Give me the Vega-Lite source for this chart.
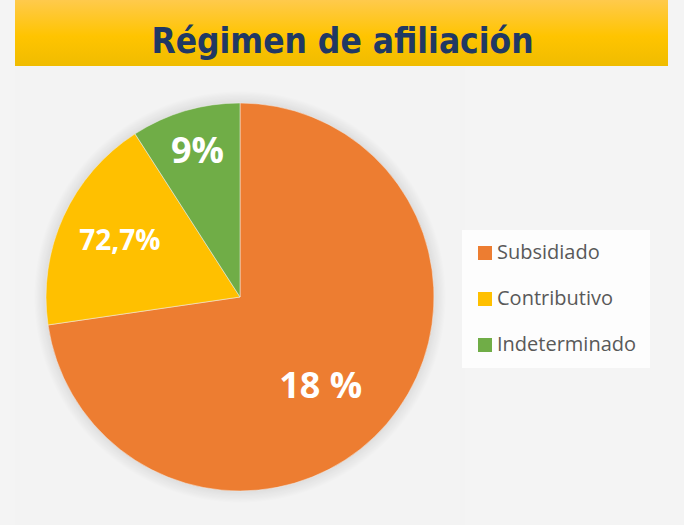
{
  "$schema": "https://vega.github.io/schema/vega-lite/v6.json",
  "background": "#f4f4f4",
  "padding": {"left": 15, "top": 0, "right": 16, "bottom": 0},
  "spacing": 1,
  "config": {"view": {"stroke": null}},
  "vconcat": [
    {
      "width": 653,
      "height": 66,
      "data": {"values": [{"titulo": "Régimen de afiliación"}]},
      "layer": [
        {
          "mark": {
            "type": "rect",
            "fill": {
              "gradient": "linear", "x1": 0, "y1": 0, "x2": 0, "y2": 1,
              "stops": [
                {"offset": 0, "color": "#FFCA4C"},
                {"offset": 0.55, "color": "#FFC400"},
                {"offset": 1, "color": "#F0BC00"}
              ]
            }
          },
          "encoding": {}
        },
        {
          "mark": {
            "type": "text",
            "font": "DejaVu Sans Condensed, sans-serif",
            "fontSize": 35,
            "fontWeight": "bold",
            "color": "#203864",
            "dx": 1,
            "dy": 9
          },
          "encoding": {"text": {"field": "titulo", "type": "nominal"}}
        }
      ]
    },
    {
      "width": 450,
      "height": 460,
      "view": {"fill": "#f3f3f3"},
      "data": {
        "values": [
          {"regimen": "Subsidiado", "porcentaje": 72.7, "etiqueta": "18 %", "orden": 1},
          {"regimen": "Contributivo", "porcentaje": 18.2, "etiqueta": "72,7%", "orden": 2},
          {"regimen": "Indeterminado", "porcentaje": 9.1, "etiqueta": "9%", "orden": 3}
        ]
      },
      "layer": [
        {
          "data": {"values": [{"total": 100}]},
          "mark": {
            "type": "arc",
            "radius": 206,
            "fill": {
              "gradient": "radial", "x1": 0.5, "y1": 0.5, "r1": 0, "x2": 0.5, "y2": 0.5, "r2": 0.5,
              "stops": [
                {"offset": 0, "color": "rgba(0,0,0,0.13)"},
                {"offset": 0.93, "color": "rgba(0,0,0,0.10)"},
                {"offset": 1, "color": "rgba(0,0,0,0)"}
              ]
            }
          },
          "encoding": {"theta": {"field": "total", "type": "quantitative"}}
        },
        {
          "mark": {"type": "arc", "radius": 194, "stroke": "#f3f3f3", "strokeWidth": 0.5},
          "encoding": {
            "theta": {"field": "porcentaje", "type": "quantitative", "stack": true},
            "order": {"field": "orden", "type": "quantitative"},
            "color": {
              "field": "regimen",
              "type": "nominal",
              "scale": {
                "domain": ["Subsidiado", "Contributivo", "Indeterminado"],
                "range": ["#ED7D31", "#FFC000", "#70AD47"]
              },
              "legend": {
                "title": null,
                "orient": "none",
                "legendX": 447,
                "legendY": 230,
                "fillColor": "#fdfdfd",
                "padding": 13,
                "rowPadding": 26,
                "symbolType": "square",
                "symbolSize": 196,
                "symbolStrokeWidth": 0,
                "labelFont": "Open Sans",
                "labelFontSize": 20,
                "labelColor": "#595959",
                "labelOffset": 2
              }
            }
          }
        },
        {
          "mark": {"type": "text", "radius": 151, "font": "Open Sans", "fontWeight": "bold", "fontSize": 36, "color": "white"},
          "encoding": {
            "theta": {"field": "porcentaje", "type": "quantitative", "stack": true},
            "order": {"field": "orden", "type": "quantitative"},
            "text": {"condition": {"test": "datum.regimen === 'Indeterminado'", "field": "etiqueta"}, "value": ""}
          }
        },
        {
          "mark": {"type": "text", "radius": 132, "font": "Open Sans", "fontWeight": "bold", "fontSize": 28, "color": "white"},
          "encoding": {
            "theta": {"field": "porcentaje", "type": "quantitative", "stack": true},
            "order": {"field": "orden", "type": "quantitative"},
            "text": {"condition": {"test": "datum.regimen === 'Contributivo'", "field": "etiqueta"}, "value": ""}
          }
        },
        {
          "mark": {"type": "text", "radius": 120, "dx": -10, "dy": 11, "font": "Open Sans", "fontWeight": "bold", "fontSize": 36, "color": "white"},
          "encoding": {
            "theta": {"field": "porcentaje", "type": "quantitative", "stack": true},
            "order": {"field": "orden", "type": "quantitative"},
            "text": {"condition": {"test": "datum.regimen === 'Subsidiado'", "field": "etiqueta"}, "value": ""}
          }
        }
      ]
    }
  ]
}
